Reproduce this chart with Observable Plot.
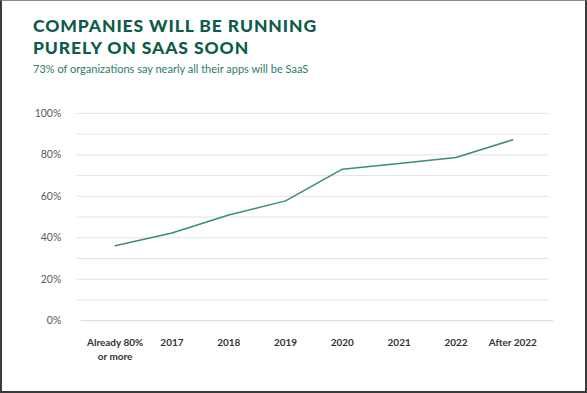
<!DOCTYPE html>
<html>
<head>
<meta charset="utf-8">
<script src="https://cdn.jsdelivr.net/npm/d3@7"></script>
<script src="https://cdn.jsdelivr.net/npm/@observablehq/plot@0.6"></script>
<style>
  html, body { margin: 0; padding: 0; background: #fff; }
  #frame {
    position: relative; width: 587px; height: 393px; box-sizing: border-box;
    border: 2px solid #3a3a3a; border-top: 1px solid #8a8a8a; overflow: hidden;
    font-family: Lato, "Open Sans", sans-serif;
  }
  #title {
    position: absolute; left: 31px; top: 14px; margin: 0;
    font: 900 17.5px/22px Lato, sans-serif; color: #0f5b4b; letter-spacing: 0.9px;
  }
  #subtitle {
    position: absolute; left: 31px; top: 61px; margin: 0;
    font: 400 11px/13px Lato, sans-serif; color: #2c7b6c;
  }
  #chart { position: absolute; left: -2px; top: 88px; }
</style>
</head>
<body>
<div id="frame">
  <div id="title">COMPANIES WILL BE RUNNING<br>PURELY ON SAAS SOON</div>
  <div id="subtitle">73% of organizations say nearly all their apps will be SaaS</div>
  <div id="chart"></div>
</div>
<script>
const categories = ["Already 80%\nor more", "2017", "2018", "2019", "2020", "2021", "2022", "After 2022"];
const shares = [36.2, 42.3, 51.0, 57.8, 73.1, 75.8, 78.7, 87.3];
const yTicks = [0, 20, 40, 60, 80, 100];
const gridTicks = [10, 20, 30, 40, 50, 60, 70, 80, 90, 100];

const data = categories.map((c, i) => ({category: c, share: shares[i]}));

const chart = Plot.plot({
  width: 587,
  height: 302,
  marginLeft: 77,
  marginRight: 36,
  marginTop: 24,
  marginBottom: 70,
  style: {fontFamily: "Lato, sans-serif", background: "transparent"},
  x: {type: "point", domain: categories, padding: 0.65},
  y: {domain: [0, 100]},
  marks: [
    Plot.ruleY(gridTicks, {stroke: "#e3e3e3", strokeWidth: 1}),
    Plot.ruleY([0], {stroke: "#d6d6d6", strokeWidth: 1, insetLeft: 4, insetRight: -4}),
    Plot.axisY({ticks: yTicks, tickFormat: d => d + "%", tickSize: 0, tickPadding: 16,
      fontSize: 10.5, fill: "#595959", label: null}),
    Plot.axisX({tickSize: 0, tickPadding: 16, fontSize: 10, fontWeight: "bold",
      fill: "#333", label: null, lineHeight: 1.35}),
    Plot.line(data, {x: "category", y: "share", stroke: "#3b8a80", strokeWidth: 1.5})
  ]
});
document.getElementById("chart").appendChild(chart);
</script>
</body>
</html>
